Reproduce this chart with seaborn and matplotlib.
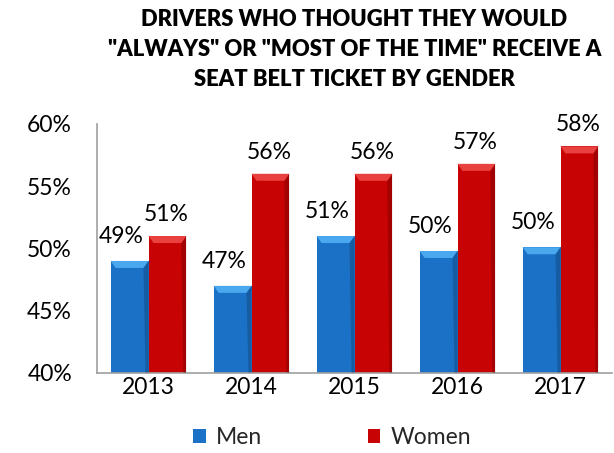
import numpy as np
import pandas as pd
import matplotlib
matplotlib.use("Agg")
import matplotlib.pyplot as plt
from matplotlib.patches import Polygon, Patch
import seaborn as sns

years = ["2013", "2014", "2015", "2016", "2017"]
men = [49.0, 47.0, 51.0, 49.8, 50.1]
women = [51.0, 56.0, 56.0, 56.8, 58.2]
men_labels = ["49%", "47%", "51%", "50%", "50%"]
women_labels = ["51%", "56%", "56%", "57%", "58%"]
series = ["Men", "Women"]
title = 'DRIVERS WHO THOUGHT THEY WOULD\n"ALWAYS" OR "MOST OF THE TIME" RECEIVE A\nSEAT BELT TICKET BY GENDER'

df = pd.DataFrame({
    "year": years * 2,
    "gender": ["Men"] * len(years) + ["Women"] * len(years),
    "value": men + women,
})

sns.set_theme(style="white")
plt.rcParams["font.family"] = ["Lato", "DejaVu Sans"]

BLUE = "#1b71c6"
RED = "#c80303"
BLUE_TOP = "#4aa8ee"
RED_TOP = "#e94040"

fig = plt.figure(figsize=(6.14, 4.53), dpi=100)
ax = fig.add_axes([97 / 614, 80 / 453, (612 - 97) / 614, (373 - 124) / 453])

sns.barplot(data=df, x="year", y="value", hue="gender", order=years,
            hue_order=series, palette=[BLUE, RED], width=0.735,
            saturation=1, ax=ax, legend=False, edgecolor="none")

ax.set_ylim(40, 60)
ax.set_xlim(-0.5, len(years) - 0.5)
ax.set_yticks([40, 45, 50, 55, 60])
ax.set_yticklabels(["40%", "45%", "50%", "55%", "60%"])
ax.set_xlabel("")
ax.set_ylabel("")
ax.tick_params(axis="both", which="major", length=0, labelsize=16.5, colors="black")
ax.tick_params(axis="y", pad=18)
ax.tick_params(axis="x", pad=3)
ax.set_xticks(np.arange(-0.5, len(years), 1.0), minor=True)
ax.tick_params(axis="x", which="minor", length=6, width=1, color="#a0a0a0", direction="out")
for s in ["top", "right"]:
    ax.spines[s].set_visible(False)
for s in ["left", "bottom"]:
    ax.spines[s].set_color("#a0a0a0")
    ax.spines[s].set_linewidth(1.2)

# pixel -> data scale
px_x = (len(years)) / (612 - 97)
px_y = 20 / (373 - 124)

bars = [p for p in ax.patches]
for p in bars:
    x0 = p.get_x(); w = p.get_width(); top = p.get_y() + p.get_height()
    col = p.get_facecolor()
    is_blue = col[2] > col[0]
    light = BLUE_TOP if is_blue else RED_TOP
    h = 7 * px_y; d = 5 * px_x
    poly = Polygon([(x0, top), (x0 + w, top), (x0 + w - d, top - h), (x0 + d, top - h)],
                   closed=True, facecolor=light, edgecolor="none", zorder=3)
    ax.add_patch(poly)
    side = Polygon([(x0 + w, top), (x0 + w, 40), (x0 + w - 3 * px_x, 40), (x0 + w - d, top - h)],
                   closed=True, facecolor=(0, 0, 0, 0.18), edgecolor="none", zorder=3)
    ax.add_patch(side)

n = len(years)
for i, p in enumerate(bars[:2 * n]):
    cx = p.get_x() + p.get_width() / 2
    top = p.get_y() + p.get_height()
    if i < n:
        lab = men_labels[i]; dx, dy = -8, 18
    else:
        lab = women_labels[i - n]; dx, dy = -1, 15
    ax.annotate(lab, (cx, top), xytext=(dx, dy), textcoords="offset pixels",
                ha="center", va="baseline", fontsize=16.5, color="black", zorder=5)

fig.text((97 + 612) / 2 / 614, 1 - 9 / 453, title, ha="center", va="top",
         fontsize=15.8, fontweight="heavy", linespacing=1.52, color="black")

handles = [Patch(facecolor=BLUE, edgecolor="none"), Patch(facecolor=RED, edgecolor="none")]
fig.legend(handles, series, loc="center", bbox_to_anchor=(332 / 614, 1 - 438 / 453),
           ncol=2, frameon=False, fontsize=16.5, handlelength=0.55, handleheight=0.55,
           handletextpad=0.45, columnspacing=4.6)

fig.savefig("out.png", dpi=100)
